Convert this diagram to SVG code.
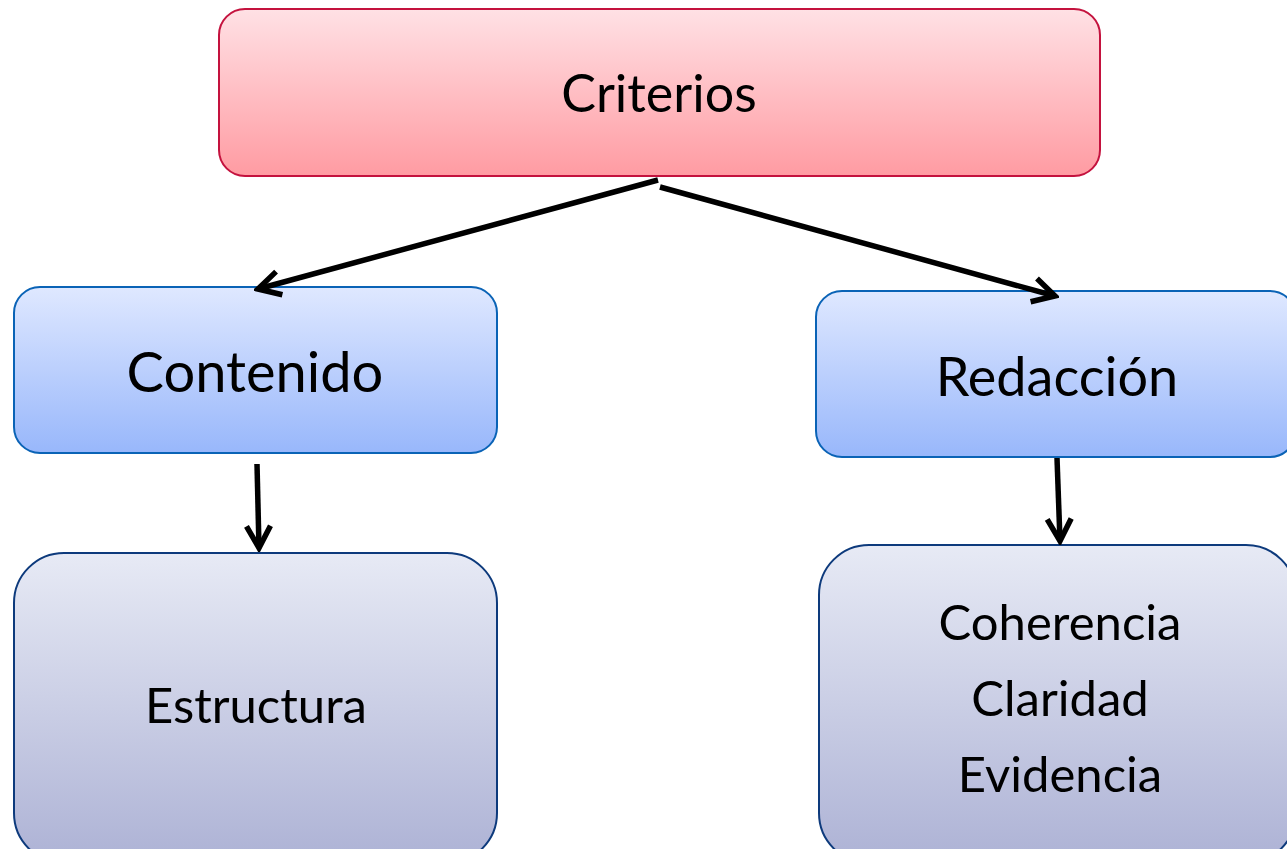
<svg xmlns="http://www.w3.org/2000/svg" width="1287" height="849" viewBox="0 0 1287 849">
<style>
.lbl{font-family:Lato,"Noto Sans","DejaVu Sans",sans-serif;fill:#000;text-anchor:middle}
.conn{stroke:#000;stroke-width:5.5;fill:none}
</style>
<defs>
<linearGradient id="gRed" x1="0" y1="0" x2="0" y2="1"><stop offset="0" stop-color="#ffe1e5"/><stop offset="1" stop-color="#ff9ba2"/></linearGradient>
<linearGradient id="gBlue" x1="0" y1="0" x2="0" y2="1"><stop offset="0" stop-color="#dfe8ff"/><stop offset="1" stop-color="#98b7fb"/></linearGradient>
<linearGradient id="gGrey" x1="0" y1="0" x2="0" y2="1"><stop offset="0" stop-color="#e7eaf5"/><stop offset="1" stop-color="#adb2d5"/></linearGradient>
<marker id="arr" markerUnits="userSpaceOnUse" viewBox="-26 -16 30 32" refX="0" refY="0" markerWidth="30" markerHeight="32" orient="auto">
<path d="M-22,-12 L0,0 L-22,12" fill="none" stroke="#000" stroke-width="5.5" stroke-linejoin="miter"/>
</marker>
</defs>
<rect width="1287" height="849" fill="#fff"/>
<g id="criterios">
<rect x="219" y="9" width="881" height="167" rx="26" fill="url(#gRed)" stroke="#c4123e" stroke-width="2"/>
<text class="lbl" x="659" y="112" font-size="52">Criterios</text>
</g>
<g id="contenido">
<rect x="14" y="287" width="483" height="166" rx="26" fill="url(#gBlue)" stroke="#0a63b6" stroke-width="2"/>
<text class="lbl" x="255" y="392" font-size="56">Contenido</text>
</g>
<g id="redaccion">
<rect x="816" y="291" width="480" height="166" rx="26" fill="url(#gBlue)" stroke="#0a63b6" stroke-width="2"/>
<text class="lbl" x="1057" y="396" font-size="54">Redacción</text>
</g>
<g id="estructura">
<rect x="14" y="553" width="483" height="310" rx="50" fill="url(#gGrey)" stroke="#0d3a7c" stroke-width="2"/>
<text class="lbl" x="256" y="723" font-size="49">Estructura</text>
</g>
<g id="redaccion-items">
<rect x="819" y="545" width="477" height="318" rx="50" fill="url(#gGrey)" stroke="#0d3a7c" stroke-width="2"/>
<text class="lbl" x="1060" y="640" font-size="49">Coherencia</text>
<text class="lbl" x="1060" y="716" font-size="49">Claridad</text>
<text class="lbl" x="1060" y="792" font-size="49">Evidencia</text>
</g>
<g id="connectors">
<line class="conn" x1="658" y1="180" x2="258" y2="289" marker-end="url(#arr)"/>
<line class="conn" x1="660" y1="187" x2="1055" y2="296" marker-end="url(#arr)"/>
<line class="conn" x1="257" y1="464" x2="259" y2="548" marker-end="url(#arr)"/>
<line class="conn" x1="1057" y1="458" x2="1060" y2="541" marker-end="url(#arr)"/>
</g>
</svg>
